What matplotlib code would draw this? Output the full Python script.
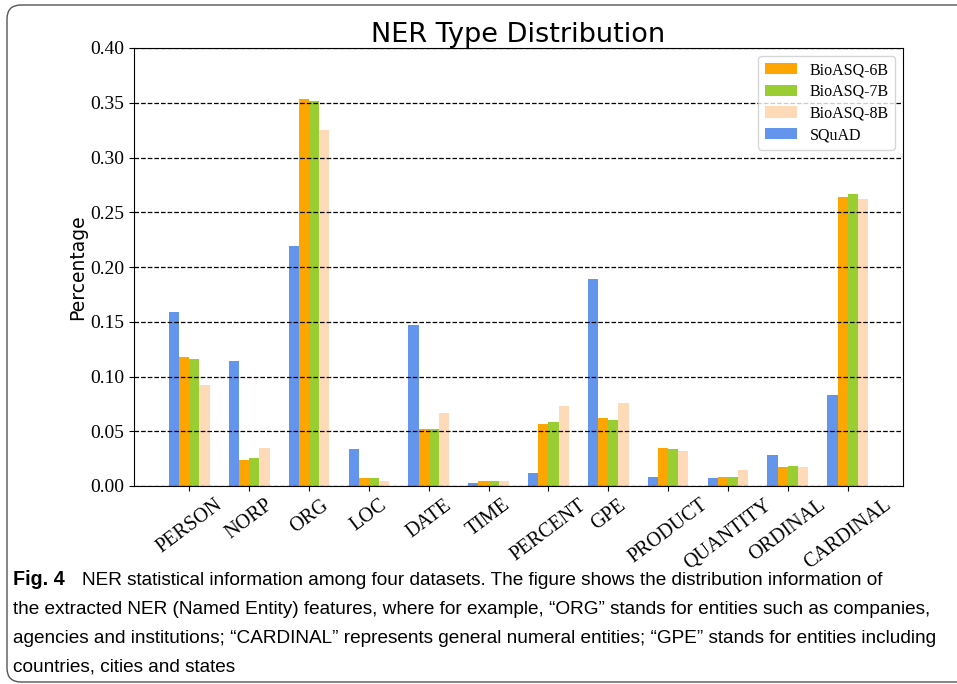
import numpy as np
import matplotlib
matplotlib.use("Agg")
import matplotlib.pyplot as plt
from matplotlib.patches import FancyBboxPatch
from matplotlib.transforms import IdentityTransform

categories = ["PERSON", "NORP", "ORG", "LOC", "DATE", "TIME", "PERCENT",
              "GPE", "PRODUCT", "QUANTITY", "ORDINAL", "CARDINAL"]
bioasq6b = [0.118, 0.024, 0.353, 0.007, 0.052, 0.005, 0.057, 0.062, 0.035, 0.008, 0.017, 0.264]
bioasq7b = [0.116, 0.026, 0.352, 0.007, 0.052, 0.005, 0.058, 0.060, 0.034, 0.008, 0.018, 0.267]
bioasq8b = [0.092, 0.035, 0.325, 0.005, 0.067, 0.005, 0.073, 0.076, 0.032, 0.015, 0.017, 0.262]
squad = [0.159, 0.114, 0.219, 0.034, 0.147, 0.003, 0.012, 0.189, 0.008, 0.007, 0.028, 0.083]
series_names = ["BioASQ-6B", "BioASQ-7B", "BioASQ-8B", "SQuAD"]
yticks = [0.00, 0.05, 0.10, 0.15, 0.20, 0.25, 0.30, 0.35, 0.40]

caption_lines = [
    "NER statistical information among four datasets. The figure shows the distribution information of",
    "the extracted NER (Named Entity) features, where for example, \u201cORG\u201d stands for entities such as companies,",
    "agencies and institutions; \u201cCARDINAL\u201d represents general numeral entities; \u201cGPE\u201d stands for entities including",
    "countries, cities and states",
]

W, H = 957, 684
fig = plt.figure(figsize=(W / 100, H / 100), dpi=100)
ax = fig.add_axes([134 / W, 1 - 486 / H, (903 - 134) / W, (486 - 48) / H])

x = np.arange(len(categories))
w = 0.17
serif = ["Liberation Serif", "DejaVu Serif"]
ax.bar(x - 0.5 * w, bioasq6b, w, color="orange", label=series_names[0])
ax.bar(x + 0.5 * w, bioasq7b, w, color="yellowgreen", label=series_names[1])
ax.bar(x + 1.5 * w, bioasq8b, w, color="peachpuff", label=series_names[2])
ax.bar(x - 1.5 * w, squad, w, color="cornflowerblue", label=series_names[3])

ax.set_ylim(0, 0.40)
ax.set_yticks(yticks)
ax.set_yticklabels([f"{v:.2f}" for v in yticks], fontfamily=serif, fontsize=14)
ax.set_xticks(x)
ax.set_xticklabels(categories, rotation=37, fontfamily=serif, fontsize=14.5)
ax.yaxis.grid(True, linestyle="--", color="black", linewidth=0.9)
ax.set_ylabel("Percentage", fontsize=13.5, fontfamily="DejaVu Sans", labelpad=2)
ax.set_title("NER Type Distribution", fontsize=19.5, fontfamily="DejaVu Sans", pad=4)
ax.legend(loc="upper right", prop={"family": serif, "size": 11.5}, labelspacing=0.35)

# caption
fs = 13.7
cap_font = ["Liberation Sans", "DejaVu Sans"]
baselines = [585, 614, 643, 672]
fig.text(13 / W, 1 - baselines[0] / H, "Fig. 4", fontsize=fs + 0.5, fontweight="bold",
         family=cap_font, va="baseline", ha="left")
fig.text(82 / W, 1 - baselines[0] / H, caption_lines[0], fontsize=fs,
         family=cap_font, va="baseline", ha="left")
for line, b in zip(caption_lines[1:], baselines[1:]):
    fig.text(13 / W, 1 - b / H, line, fontsize=fs, family=cap_font, va="baseline", ha="left")

# frame around figure + caption
box = FancyBboxPatch((7, 2), W + 20, H - 7, boxstyle="round,pad=0,rounding_size=14",
                     transform=IdentityTransform(), fill=False, edgecolor="#555555",
                     linewidth=1.0, clip_on=False)
fig.patches.append(box)

fig.savefig("out.png", dpi=100)
